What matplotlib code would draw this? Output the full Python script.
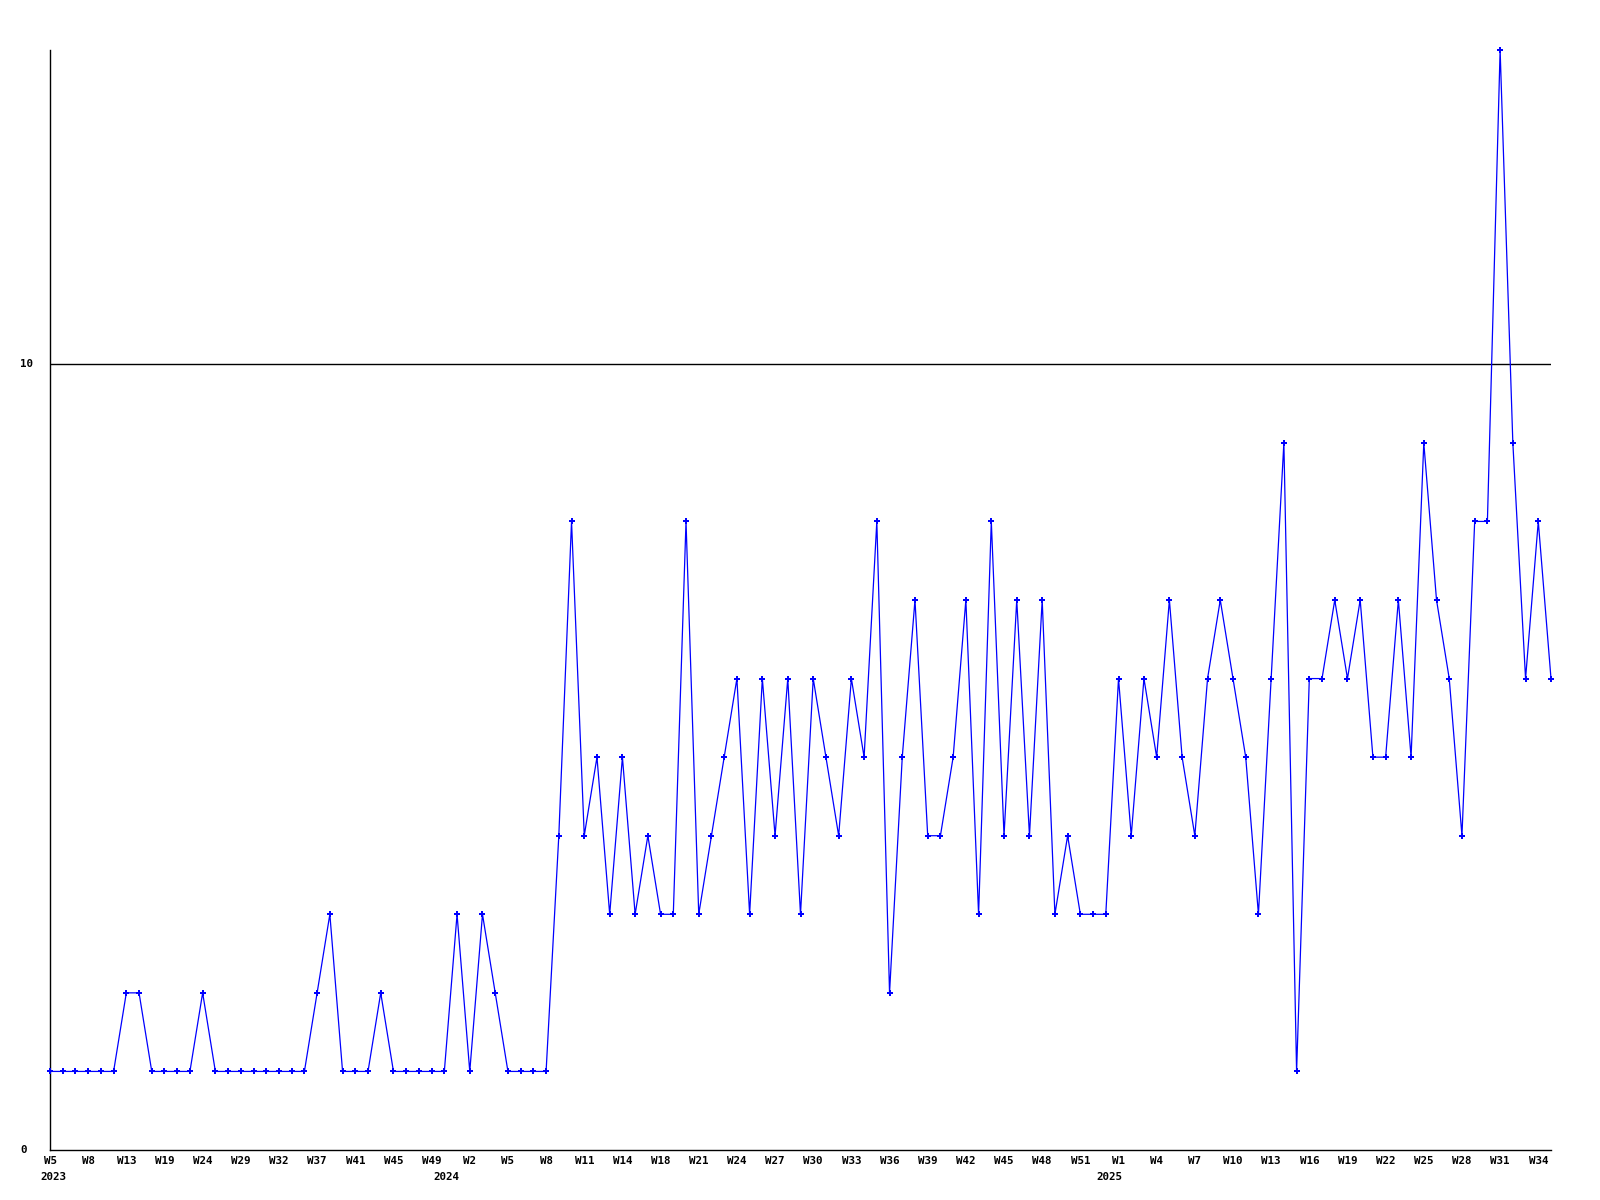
import matplotlib
matplotlib.use("Agg")
import matplotlib.pyplot as plt
import matplotlib.transforms as mtransforms

# ---- data ----
values = [
    1, 1, 1, 1, 1, 1, 2, 2, 1, 1, 1, 1, 2, 1, 1, 1, 1, 1, 1, 1,
    1, 2, 3, 1, 1, 1, 2, 1, 1, 1, 1, 1, 3, 1, 3, 2, 1, 1, 1, 1,
    4, 8, 4, 5, 3, 5, 3, 4, 3, 3, 8, 3, 4, 5, 6, 3, 6, 4, 6, 3,
    6, 5, 4, 6, 5, 8, 2, 5, 7, 4, 4, 5, 7, 3, 8, 4, 7, 4, 7, 3,
    4, 3, 3, 3, 6, 4, 6, 5, 7, 5, 4, 6, 7, 6, 5, 3, 6, 9, 1, 6,
    6, 7, 6, 7, 5, 5, 7, 5, 9, 7, 6, 4, 8, 8, 14, 9, 6, 8, 6,
]
week_tick_labels = [
    "W5", "W8", "W13", "W19", "W24", "W29", "W32", "W37", "W41", "W45", "W49",
    "W2", "W5", "W8", "W11", "W14", "W18", "W21", "W24", "W27", "W30", "W33",
    "W36", "W39", "W42", "W45", "W48", "W51",
    "W1", "W4", "W7", "W10", "W13", "W16", "W19", "W22", "W25", "W28", "W31", "W34",
]
year_labels = ["2023", "2024", "2025"]
year_label_x = [0.25, 31.2, 83.3]
y_tick_values = [0, 10]

# ---- figure ----
W, H, DPI = 1600, 1200, 100
fig = plt.figure(figsize=(W / DPI, H / DPI), dpi=DPI)
fig.patch.set_facecolor("white")
ax = fig.add_axes([50 / W, 50 / H, (1551 - 50) / W, (1150 - 50) / H])

font = dict(family="DejaVu Sans Mono", weight="bold", size=7.8)

x = list(range(len(values)))
ax.plot(x, values, color="#0000ff", linewidth=0.9, marker="P", markersize=4.2,
        markeredgewidth=0, markerfacecolor="#0000ff", zorder=3, clip_on=False)

ax.set_xlim(0, len(values) - 1)
ax.set_ylim(0, 14)

ax.axhline(10, color="black", linewidth=1.0, zorder=2)

for s in ["top", "right"]:
    ax.spines[s].set_visible(False)
for s in ["left", "bottom"]:
    ax.spines[s].set_linewidth(1.0)
    ax.spines[s].set_color("black")

# x ticks: every 3rd point
tick_pos = list(range(0, len(values), 3))[:len(week_tick_labels)]
ax.set_xticks(tick_pos)
ax.set_xticklabels(week_tick_labels, **font)
ax.tick_params(axis="x", length=0, pad=4)

ax.set_yticks([])
ytrans = mtransforms.blended_transform_factory(fig.transFigure, ax.transData)
for v in y_tick_values:
    ax.text(20 / W, v, str(v), transform=ytrans, ha="left", va="center", **font)

xtrans = mtransforms.blended_transform_factory(ax.transData, fig.transFigure)
for lab, xp in zip(year_labels, year_label_x):
    ax.text(xp, 1 - 1177 / H, lab, transform=xtrans, ha="center", va="center", **font)

fig.savefig("out.png", dpi=DPI, facecolor="white")
